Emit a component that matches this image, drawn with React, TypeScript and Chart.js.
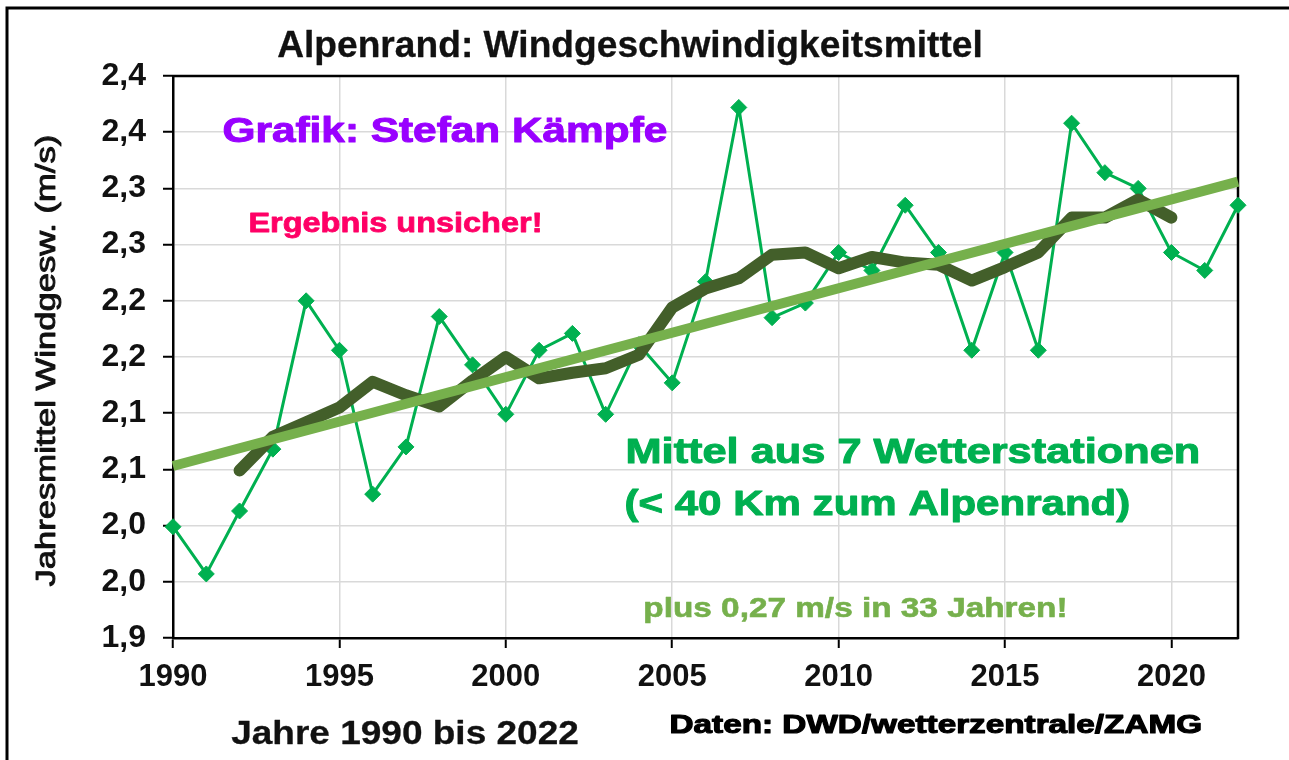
import React, { useEffect, useRef } from "react";
import { Chart, registerables } from "chart.js";

Chart.register(...registerables);

// ---------- data ----------
const years = [
  1990, 1991, 1992, 1993, 1994, 1995, 1996, 1997, 1998, 1999, 2000, 2001, 2002,
  2003, 2004, 2005, 2006, 2007, 2008, 2009, 2010, 2011, 2012, 2013, 2014, 2015,
  2016, 2017, 2018, 2019, 2020, 2021, 2022,
];
const windMeans = [
  1.999, 1.957, 2.013, 2.068, 2.2, 2.156, 2.028, 2.07, 2.186, 2.143, 2.099,
  2.156, 2.171, 2.099, 2.161, 2.127, 2.217, 2.372, 2.185, 2.198, 2.243, 2.227,
  2.285, 2.243, 2.156, 2.243, 2.156, 2.358, 2.314, 2.3, 2.243, 2.227, 2.285,
];
const avgYears = [
  1992, 1993, 1994, 1995, 1996, 1997, 1998, 1999, 2000, 2001, 2002, 2003, 2004,
  2005, 2006, 2007, 2008, 2009, 2010, 2011, 2012, 2013, 2014, 2015, 2016, 2017,
  2018, 2019, 2020,
];
const movingAvg = [
  2.049, 2.079, 2.092, 2.105, 2.128, 2.116, 2.106, 2.129, 2.15, 2.131, 2.136,
  2.14, 2.152, 2.194, 2.211, 2.22, 2.241, 2.243, 2.229, 2.239, 2.234, 2.232,
  2.218, 2.23, 2.243, 2.274, 2.274, 2.29, 2.274,
];
const trendYears = [1990, 2022];
const trendValues = [2.053, 2.306];

const xTickValues = [1990, 1995, 2000, 2005, 2010, 2015, 2020];
const yTickValues = [1.9, 1.95, 2.0, 2.05, 2.1, 2.15, 2.2, 2.25, 2.3, 2.35, 2.4];
const yTickLabels = ["1,9", "2,0", "2,0", "2,1", "2,1", "2,2", "2,2", "2,3", "2,3", "2,4", "2,4"];

const titleText = "Alpenrand: Windgeschwindigkeitsmittel";
const authorText = "Grafik: Stefan Kämpfe";
const warnText = "Ergebnis unsicher!";
const noteLine1 = "Mittel aus 7 Wetterstationen";
const noteLine2 = "(< 40 Km zum Alpenrand)";
const trendText = "plus 0,27 m/s in 33 Jahren!";
const xTitleText = "Jahre 1990 bis 2022";
const sourceText = "Daten: DWD/wetterzentrale/ZAMG";
const yTitleText = "Jahresmittel Windgesw. (m/s)";

const FAMILY = "'Liberation Sans', Arial, sans-serif";

function fitText(
  ctx: CanvasRenderingContext2D,
  text: string,
  x: number,
  y: number,
  width: number,
  font: string,
  color: string,
  stroke = 0
) {
  ctx.save();
  ctx.font = font;
  ctx.fillStyle = color;
  ctx.textAlign = "left";
  ctx.textBaseline = "alphabetic";
  const w = ctx.measureText(text).width + stroke;
  ctx.translate(x + stroke / 2, y);
  ctx.scale(width / w, 1);
  ctx.fillText(text, 0, 0);
  if (stroke > 0) {
    ctx.strokeStyle = color;
    ctx.lineWidth = stroke;
    ctx.lineJoin = "round";
    ctx.strokeText(text, 0, 0);
  }
  ctx.restore();
}

const framePlugin = {
  id: "framePlugin",
  beforeDatasetsDraw(chart: any) {
    const ctx = chart.ctx as CanvasRenderingContext2D;
    const { left, top, right, bottom } = chart.chartArea;
    ctx.save();
    ctx.strokeStyle = "#000";
    ctx.lineWidth = 2.5;
    ctx.beginPath();
    ctx.moveTo(left - 1, top);
    ctx.lineTo(right, top);
    ctx.lineTo(right, bottom + 1);
    ctx.stroke();
    ctx.restore();
  },
  afterDraw(chart: any) {
    const ctx = chart.ctx as CanvasRenderingContext2D;
    ctx.save();
    ctx.strokeStyle = "#000";
    ctx.lineWidth = 3;
    ctx.beginPath();
    ctx.moveTo(7, 760);
    ctx.lineTo(7, 8);
    ctx.lineTo(1289, 8);
    ctx.stroke();
    ctx.restore();

    fitText(ctx, titleText, 277, 57, 706, `bold 37px ${FAMILY}`, "#111", 0.3);
    fitText(ctx, authorText, 222, 142, 446, `bold 35px ${FAMILY}`, "#9900FF", 1);
    fitText(ctx, warnText, 248, 232, 295, `bold 27px ${FAMILY}`, "#FF0066", 0.8);
    fitText(ctx, noteLine1, 625, 463, 576, `bold 35px ${FAMILY}`, "#00B050", 1);
    fitText(ctx, noteLine2, 624, 515, 507, `bold 35px ${FAMILY}`, "#00B050", 1);
    fitText(ctx, trendText, 643, 617, 425, `bold 28px ${FAMILY}`, "#76B04C", 0.6);
    fitText(ctx, xTitleText, 231, 744, 348, `bold 33px ${FAMILY}`, "#111", 0.3);
    fitText(ctx, sourceText, 669, 733, 534, `bold 25px ${FAMILY}`, "#000", 1.1);

    ctx.save();
    ctx.translate(55, 587);
    ctx.rotate(-Math.PI / 2);
    fitText(ctx, yTitleText, 0, 0, 453, `27px ${FAMILY}`, "#111", 0.9);
    ctx.restore();
  },
};

export default function App() {
  const canvasRef = useRef<HTMLCanvasElement | null>(null);

  useEffect(() => {
    if (!canvasRef.current) return;
    Chart.defaults.font.family = FAMILY;
    const chart = new Chart(canvasRef.current, {
      type: "line",
      data: {
        datasets: [
          {
            label: "Trend",
            data: trendYears.map((x, i) => ({ x, y: trendValues[i] })),
            borderColor: "#76B04C",
            borderWidth: 10,
            pointRadius: 0,
            borderCapStyle: "butt",
            clip: false as any,
            order: 0,
          },
          {
            label: "Gleitendes Mittel",
            data: avgYears.map((x, i) => ({ x, y: movingAvg[i] })),
            borderColor: "#435F2A",
            borderWidth: 12,
            pointRadius: 0,
            borderCapStyle: "round",
            borderJoinStyle: "round",
            order: 1,
          },
          {
            label: "Jahresmittel",
            data: years.map((x, i) => ({ x, y: windMeans[i] })),
            borderColor: "#00B050",
            backgroundColor: "#00B050",
            borderWidth: 3,
            pointStyle: "rectRot",
            pointRadius: 8,
            pointBorderWidth: 1,
            pointBackgroundColor: "#00B050",
            pointBorderColor: "#00B050",
            clip: false as any,
            order: 2,
          },
        ],
      },
      options: {
        animation: false,
        responsive: false,
        maintainAspectRatio: false,
        devicePixelRatio: 1,
        layout: { padding: { left: 0, top: 76, right: 51, bottom: 0 } },
        plugins: {
          legend: { display: false },
          title: { display: false },
          tooltip: { enabled: false },
        },
        scales: {
          x: {
            type: "linear",
            min: 1990,
            max: 2022,
            afterBuildTicks: (axis: any) => {
              axis.ticks = xTickValues.map((v) => ({ value: v }));
            },
            afterFit: (s: any) => {
              s.height = 122;
            },
            grid: {
              color: "#D9D9D9",
              lineWidth: 1.5,
              tickColor: "#000",
              tickLength: 10,
              tickWidth: 2,
            },
            border: { display: true, color: "#000", width: 2.5 },
            ticks: {
              padding: 11,
              color: "#111",
              font: { size: 31, weight: "bold" },
              maxRotation: 0,
              autoSkip: false,
              callback: (v: any) => String(v),
            },
          },
          y: {
            type: "linear",
            min: 1.9,
            max: 2.4,
            afterBuildTicks: (axis: any) => {
              axis.ticks = yTickValues.map((v) => ({ value: v }));
            },
            afterFit: (s: any) => {
              s.width = 173;
            },
            grid: {
              color: "#D9D9D9",
              lineWidth: 1.5,
              tickColor: "#000",
              tickLength: 10,
              tickWidth: 2,
            },
            border: { display: true, color: "#000", width: 2.5 },
            ticks: {
              padding: 17,
              color: "#111",
              font: { size: 32, weight: "bold" },
              autoSkip: false,
              callback: (_v: any, i: number) => yTickLabels[i],
            },
          },
        },
      },
      plugins: [framePlugin],
    });
    return () => chart.destroy();
  }, []);

  return (
    <div
      style={{
        position: "fixed",
        left: 0,
        top: 0,
        width: 1289,
        height: 760,
        background: "#fff",
        overflow: "hidden",
      }}
    >
      <canvas
        ref={canvasRef}
        width={1289}
        height={760}
        style={{ display: "block", width: 1289, height: 760 }}
      />
    </div>
  );
}
